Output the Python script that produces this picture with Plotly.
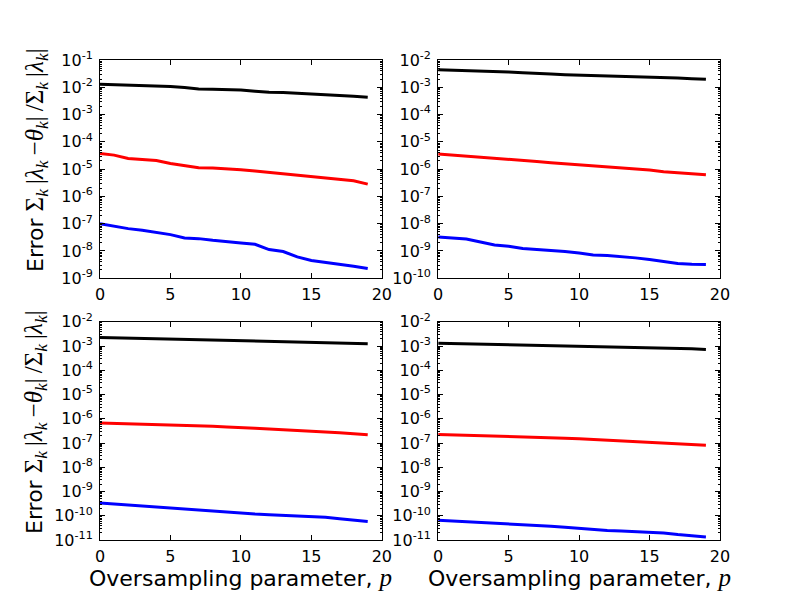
import plotly.graph_objects as go
from plotly.subplots import make_subplots

# oversampling parameter p
p = [0, 1, 2, 3, 4, 5, 6, 7, 8, 9, 10, 11, 12, 13, 14, 15, 16, 17, 18, 19]

# top left panel
a_black = [1.29e-2, 1.25e-2, 1.22e-2, 1.15e-2, 1.12e-2, 1.06e-2, 9.73e-3, 8.69e-3, 8.45e-3, 8.22e-3,
           7.98e-3, 7.14e-3, 6.56e-3, 6.50e-3, 6.03e-3, 5.40e-3, 5.25e-3, 4.95e-3, 4.69e-3, 4.31e-3]
a_red = [3.74e-5, 3.25e-5, 2.45e-5, 2.26e-5, 2.07e-5, 1.61e-5, 1.32e-5, 1.12e-5, 1.09e-5, 1.03e-5,
         9.46e-6, 8.45e-6, 7.55e-6, 6.75e-6, 5.86e-6, 5.25e-6, 4.82e-6, 4.31e-6, 3.74e-6, 2.82e-6]
a_blue = [1.00e-7, 7.98e-8, 6.56e-8, 5.70e-8, 4.82e-8, 3.96e-8, 2.99e-8, 2.82e-8, 2.45e-8, 2.26e-8,
          1.96e-8, 1.75e-8, 1.12e-8, 9.46e-9, 6.03e-9, 4.43e-9, 3.85e-9, 3.34e-9, 2.75e-9, 2.26e-9]

# top right panel
b_black = [4.43e-3, 4.31e-3, 4.07e-3, 3.96e-3, 3.85e-3, 3.64e-3, 3.44e-3, 3.16e-3, 3.08e-3, 2.90e-3,
           2.82e-3, 2.75e-3, 2.52e-3, 2.45e-3, 2.39e-3, 2.32e-3, 2.26e-3, 2.19e-3, 2.07e-3, 1.96e-3]
b_red = [3.54e-6, 3.25e-6, 2.99e-6, 2.82e-6, 2.52e-6, 2.39e-6, 2.19e-6, 1.91e-6, 1.71e-6, 1.57e-6,
         1.44e-6, 1.32e-6, 1.22e-6, 1.12e-6, 1.03e-6, 9.18e-7, 7.98e-7, 7.14e-7, 6.75e-7, 6.21e-7]
b_blue = [3.25e-9, 2.90e-9, 2.75e-9, 2.13e-9, 1.66e-9, 1.48e-9, 1.22e-9, 1.12e-9, 1.06e-9, 9.46e-10,
          8.45e-10, 7.14e-10, 6.75e-10, 6.21e-10, 5.55e-10, 4.82e-10, 4.07e-10, 3.44e-10, 3.25e-10, 3.20e-10]

# bottom left panel
c_black = [2.24e-3, 2.17e-3, 2.10e-3, 2.10e-3, 2.04e-3, 1.98e-3, 1.98e-3, 1.91e-3, 1.85e-3, 1.79e-3,
           1.74e-3, 1.63e-3, 1.58e-3, 1.53e-3, 1.48e-3, 1.44e-3, 1.39e-3, 1.35e-3, 1.31e-3, 1.26e-3]
c_red = [6.75e-7, 6.53e-7, 6.32e-7, 5.93e-7, 5.57e-7, 5.40e-7, 5.22e-7, 5.06e-7, 4.91e-7, 4.60e-7,
         4.46e-7, 4.06e-7, 3.80e-7, 3.56e-7, 3.46e-7, 3.24e-7, 3.04e-7, 2.68e-7, 2.44e-7, 2.21e-7]
c_blue = [3.37e-10, 3.06e-10, 2.79e-10, 2.53e-10, 2.30e-10, 2.03e-10, 1.90e-10, 1.78e-10, 1.62e-10, 1.43e-10,
          1.26e-10, 1.18e-10, 1.11e-10, 1.04e-10, 1.01e-10, 9.44e-11, 8.59e-11, 7.55e-11, 6.65e-11, 5.86e-11]

# bottom right panel
d_black = [1.32e-3, 1.28e-3, 1.24e-3, 1.24e-3, 1.20e-3, 1.16e-3, 1.16e-3, 1.12e-3, 1.09e-3, 1.05e-3,
           1.02e-3, 9.91e-4, 9.59e-4, 9.29e-4, 9.02e-4, 8.73e-4, 8.45e-4, 8.18e-4, 7.69e-4, 7.21e-4]
d_red = [2.24e-7, 2.17e-7, 2.10e-7, 1.98e-7, 1.91e-7, 1.85e-7, 1.79e-7, 1.74e-7, 1.63e-7, 1.58e-7,
         1.49e-7, 1.39e-7, 1.31e-7, 1.23e-7, 1.15e-7, 1.08e-7, 1.02e-7, 9.53e-8, 8.67e-8, 8.15e-8]
d_blue = [6.55e-11, 6.14e-11, 5.58e-11, 5.25e-11, 4.78e-11, 4.48e-11, 4.21e-11, 3.94e-11, 3.70e-11, 3.37e-11,
          2.96e-11, 2.70e-11, 2.45e-11, 2.37e-11, 2.23e-11, 2.09e-11, 1.96e-11, 1.67e-11, 1.48e-11, 1.34e-11]

# decade limits of each panel's y axis (exponents)
y_limits = [(-9, -1), (-10, -2), (-11, -2), (-11, -2)]
x_ticks = [0, 5, 10, 15, 20]

panels = [
    (1, 1, a_black, a_red, a_blue),
    (1, 2, b_black, b_red, b_blue),
    (2, 1, c_black, c_red, c_blue),
    (2, 2, d_black, d_red, d_blue),
]

MATH = "font-family:Liberation Serif;font-size:25px"
ylabel = ("Error <span style=\"" + MATH + "\">Σ<sub><i>k</i></sub>\u2009|<i>λ</i><sub><i>k</i></sub>"
          "\u2009−<i>θ</i><sub><i>k</i></sub>|\u2009/Σ<sub><i>k</i></sub>\u2009|<i>λ</i><sub><i>k</i></sub>|</span>")
xlabel = "Oversampling parameter, <span style=\"" + MATH + "\"><i>p</i></span>"

fig = make_subplots(rows=2, cols=2)

for row, col, blk, red, blu in panels:
    for ys, color in zip([blk, red, blu], ["black", "red", "blue"]):
        fig.add_trace(
            go.Scatter(x=p, y=ys, mode="lines", line=dict(color=color, width=3),
                       showlegend=False),
            row=row, col=col
        )

# matplotlib-like subplot geometry
x_domains = [[0.125, 0.47727], [0.54773, 0.9]]
y_domains = [[0.53636, 0.9], [0.1, 0.46364]]

for i, (row, col, _, _, _) in enumerate(panels):
    lo, hi = y_limits[i]
    major = [10.0 ** e for e in range(lo, hi + 1)]
    minor = [m * 10.0 ** e for e in range(lo, hi) for m in range(2, 10)]
    fig.update_yaxes(
        type="log", range=[lo, hi], domain=y_domains[row - 1],
        tickvals=major, ticktext=["10<sup>%d</sup>" % e for e in range(lo, hi + 1)],
        ticks="inside", ticklen=5, tickwidth=1, tickcolor="black",
        minor=dict(tickvals=minor, ticks="inside", ticklen=2, tickcolor="black", showgrid=False),
        showline=True, linecolor="black", linewidth=1, mirror="ticks",
        showgrid=False, zeroline=False, ticklabelstandoff=3,
        tickfont=dict(family="DejaVu Sans", size=16, color="black"),
        automargin=False,
        row=row, col=col
    )
    fig.update_xaxes(
        range=[0, 20], domain=x_domains[col - 1], tickvals=x_ticks,
        ticks="inside", ticklen=5, tickwidth=1, tickcolor="black",
        showline=True, linecolor="black", linewidth=1, mirror="ticks",
        showgrid=False, zeroline=False, ticklabelstandoff=2,
        tickfont=dict(family="DejaVu Sans", size=16, color="black"),
        automargin=False,
        row=row, col=col
    )

# axis labels as paper annotations so they sit where matplotlib put them
label_font = dict(family="DejaVu Sans", size=22, color="black")
for yc in [0.7333, 0.2967]:
    fig.add_annotation(text=ylabel, xref="paper", yref="paper", x=0.045, y=yc,
                       textangle=-90, showarrow=False, font=label_font,
                       xanchor="center", yanchor="middle")
for xc in [0.30114, 0.72386]:
    fig.add_annotation(text=xlabel, xref="paper", yref="paper", x=xc, y=0.0383,
                       showarrow=False, font=label_font,
                       xanchor="center", yanchor="middle")

fig.update_layout(
    width=800, height=600,
    margin=dict(l=0, r=0, t=0, b=0),
    paper_bgcolor="white", plot_bgcolor="white",
    font=dict(family="DejaVu Sans", color="black"),
    showlegend=False,
)

# drop the browser's default body margin so the figure starts at the window corner
fig.write_html("out.html", config={"displayModeBar": False},
               post_script="document.body.style.margin = '0';")
